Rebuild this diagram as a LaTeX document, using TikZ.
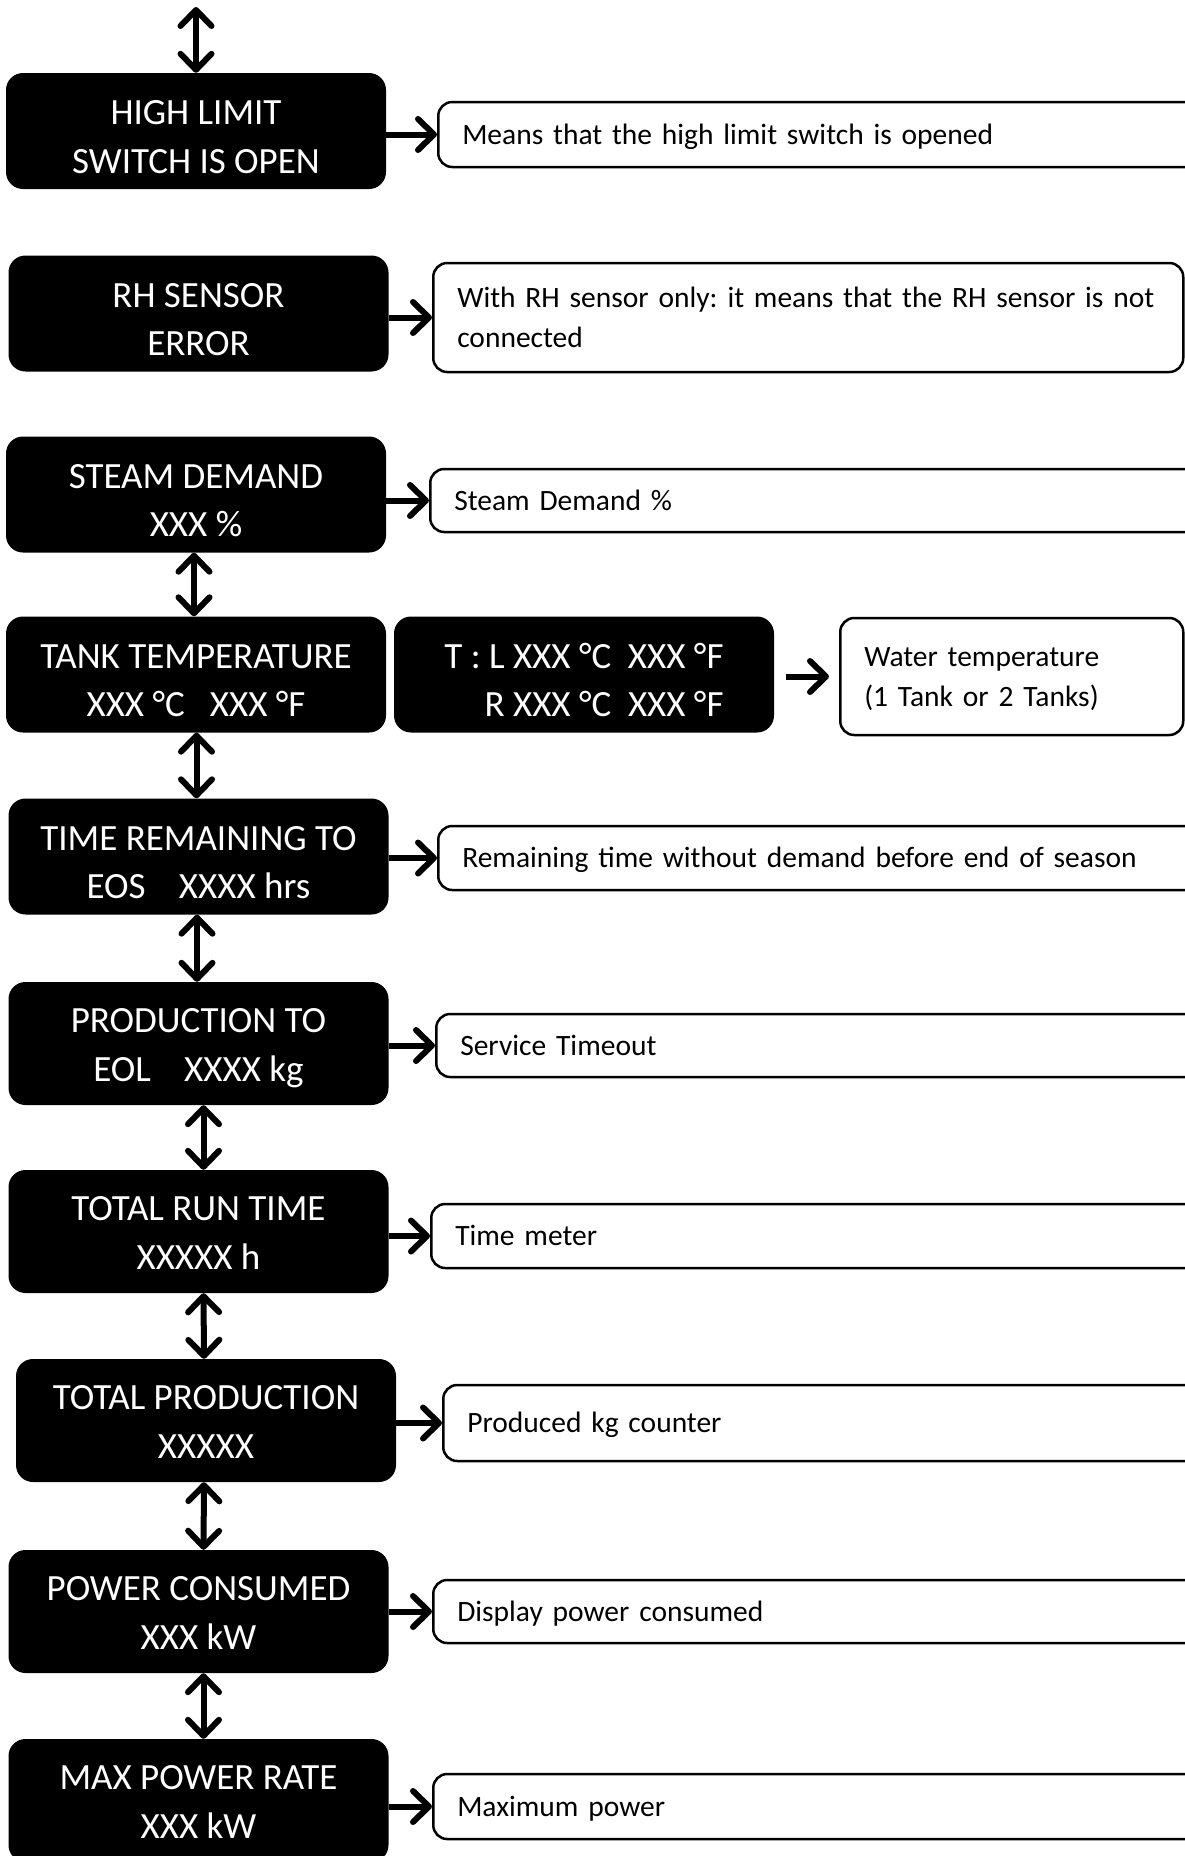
\documentclass[tikz,border=0pt]{standalone}
\usepackage{fontspec}
\setmainfont{Carlito}
\usetikzlibrary{arrows.meta}
\hyphenpenalty=10000
\exhyphenpenalty=10000
\frenchspacing
\newcommand{\bxs}[2]{\rule{0pt}{48pt}#1\\#2\rule[-12pt]{0pt}{12pt}}
\newcommand{\bxt}[2]{\rule{0pt}{38.5pt}#1\\#2\rule[-12pt]{0pt}{12pt}}
\tikzset{
  blk/.style={draw=none, fill=black, text=white, rounded corners=17pt, inner sep=0pt,
    minimum width=380pt, minimum height=116pt, align=center,
    font=\fontsize{37}{48.5}\selectfont},
  desc/.style={draw=black, line width=2.5pt, fill=white, rounded corners=14pt, anchor=west,
    inner xsep=24pt, inner ysep=0pt, align=left, text height=24pt, text depth=5pt,
    font=\fontsize{29.5}{40}\selectfont},
  desc2/.style={desc, text depth=45pt},
  tipb/.tip={Straight Barb[length=16pt,width=31pt,line cap=round,line join=round]},
  conn/.style={line width=6pt, -tipb},
  dbl/.style={line width=6pt, tipb-tipb}
}
\begin{document}
\begin{tikzpicture}[x=1pt,y=-1pt]
\useasboundingbox (0,0) rectangle (1184,1856);
\fill[white] (0,0) rectangle (1184,1856);

% black boxes
\node[blk] (b1) at (196,131) {\bxs{HIGH LIMIT}{SWITCH IS OPEN}};
\node[blk] (b2) at (198.5,313.5) {\bxs{RH SENSOR}{ERROR}};
\node[blk] (b3) at (196,494.5) {\bxs{STEAM DEMAND}{XXX \%}};
\node[blk] (b4) at (196,674.5) {\bxs{TANK TEMPERATURE}{XXX °C\ \ \ XXX °F}};
\node[blk, align=right] (b4b) at (584,674.5) {\bxs{T : L XXX °C\ \ XXX °F}{R XXX °C\ \ XXX °F}};
\node[blk] (b5) at (198.5,856.5) {\bxs{TIME REMAINING TO}{EOS\ \ \ \ XXXX hrs}};
\node[blk, minimum height=123pt] (b6) at (198.5,1043.5) {\bxt{PRODUCTION TO}{EOL\ \ \ \ XXXX kg}};
\node[blk, minimum height=123pt] (b7) at (198.5,1231.5) {\bxt{TOTAL RUN TIME}{XXXXX h}};
\node[blk, minimum height=123pt] (b8) at (206,1420.5) {\bxt{TOTAL PRODUCTION}{XXXXX}};
\node[blk, minimum height=123pt] (b9) at (198.5,1611.5) {\bxt{POWER CONSUMED}{XXX kW}};
\node[blk, minimum height=123pt] (b10) at (198.5,1800.5) {\bxt{MAX POWER RATE}{XXX kW}};

% description boxes
\node[desc, minimum width=763pt, minimum height=65pt, text width=715pt] (d1) at (437,134.5) {Means that the high limit switch is opened};
\node[desc2, minimum width=750pt, minimum height=109pt, text width=702pt] (d2) at (432,317.5) {\mbox{With RH sensor only: it means that the RH sensor is not}\\connected};
\node[desc, minimum width=771pt, minimum height=63pt, text width=723pt] (d3) at (429,500.5) {Steam Demand \%};
\node[desc2, minimum width=343pt, minimum height=117pt, text width=295pt] (d4) at (839,676.5) {Water temperature\\(1 Tank or 2 Tanks)};
\node[desc, minimum width=763pt, minimum height=64pt, text width=715pt] (d5) at (437,858) {Remaining time without demand before end of season};
\node[desc, minimum width=765pt, minimum height=63pt, text width=717pt] (d6) at (435,1045.5) {Service Timeout};
\node[desc, minimum width=770pt, minimum height=64pt, text width=722pt] (d7) at (430,1236) {Time meter};
\node[desc, minimum width=758pt, minimum height=76pt, text width=710pt] (d8) at (442,1423) {Produced kg counter};
\node[desc, minimum width=768pt, minimum height=63pt, text width=720pt] (d9) at (432,1611.5) {Display power consumed};
\node[desc, minimum width=768pt, minimum height=65pt, text width=720pt] (d10) at (432,1806.5) {Maximum power};

% vertical connectors
\coordinate (top) at (196,7);
\draw[dbl] (top) -- (b1.north);
\draw[dbl] ([xshift=-2pt]b3.south) -- ([xshift=-2pt]b4.north);
\draw[dbl] ([xshift=0.5pt]b4.south) -- ([xshift=-2pt]b5.north);
\draw[dbl] ([xshift=-1.5pt]b5.south) -- ([xshift=-1.5pt]b6.north);
\draw[dbl] ([xshift=5pt]b6.south) -- ([xshift=5pt]b7.north);
\draw[dbl] ([xshift=5pt]b7.south) -- ([xshift=-2pt]b8.north);
\draw[dbl] ([xshift=-2pt]b8.south) -- ([xshift=5pt]b9.north);
\draw[dbl] ([xshift=5pt]b9.south) -- ([xshift=5pt]b10.north);

% horizontal connectors
\draw[conn] (b1.east |- d1.west) -- (d1.west);
\draw[conn] (b2.east |- d2.west) -- (d2.west);
\draw[conn] (b3.east |- d3.west) -- (d3.west);
\draw[conn] ([xshift=12pt]b4b.east |- d4.west) -- ([xshift=-10pt]d4.west);
\draw[conn] (b5.east |- d5.west) -- (d5.west);
\draw[conn] (b6.east |- d6.west) -- (d6.west);
\draw[conn] (b7.east |- d7.west) -- (d7.west);
\draw[conn] (b8.east |- d8.west) -- (d8.west);
\draw[conn] (b9.east |- d9.west) -- (d9.west);
\draw[conn] (b10.east |- d10.west) -- (d10.west);
\end{tikzpicture}
\end{document}
